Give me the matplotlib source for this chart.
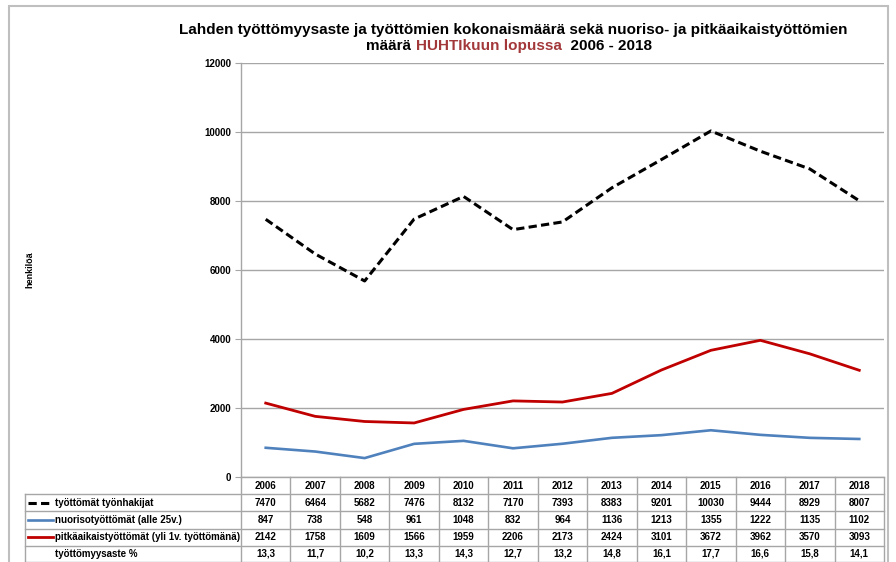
import matplotlib
matplotlib.use("Agg")
import matplotlib.pyplot as plt
from matplotlib.lines import Line2D
from matplotlib.patches import Rectangle

years = ["2006", "2007", "2008", "2009", "2010", "2011", "2012", "2013",
         "2014", "2015", "2016", "2017", "2018"]
tyonhakijat = [7470, 6464, 5682, 7476, 8132, 7170, 7393, 8383, 9201, 10030, 9444, 8929, 8007]
nuoriso = [847, 738, 548, 961, 1048, 832, 964, 1136, 1213, 1355, 1222, 1135, 1102]
pitka = [2142, 1758, 1609, 1566, 1959, 2206, 2173, 2424, 3101, 3672, 3962, 3570, 3093]
aste = ["13,3", "11,7", "10,2", "13,3", "14,3", "12,7", "13,2", "14,8", "16,1", "17,7", "16,6", "15,8", "14,1"]

row_labels = ["työttömät työnhakijat", "nuorisotyöttömät (alle 25v.)",
              "pitkäaikaistyöttömät (yli 1v. työttömänä)", "työttömyysaste %"]
yticks = [0, 2000, 4000, 6000, 8000, 10000, 12000]

C_BLACK = "#000000"
C_BLUE = "#4F81BD"
C_RED = "#C00000"
C_GRID = "#A6A6A6"
TFONT = ["Liberation Sans Narrow", "Liberation Sans", "DejaVu Sans"]
DASH = (0, (2.7, 1.4))

W, H = 896, 562
fig = plt.figure(figsize=(W / 100, H / 100), dpi=100)

def fx(px):
    return px / W

def fy(py):
    return 1 - py / H

# outer frame
fig.patches.append(Rectangle((fx(9), fy(575)), fx(888) - fx(9), fy(6) - fy(575),
                             transform=fig.transFigure, fill=False,
                             edgecolor="#BFBFBF", linewidth=1.5))

L, R, T, B = 241, 884, 63, 477
ax = fig.add_axes([fx(L), fy(B), fx(R) - fx(L), fy(T) - fy(B)])
n = len(years)
xs = list(range(n))
ax.set_xlim(-0.5, n - 0.5)
ax.set_ylim(0, 12000)
ax.set_yticks(yticks)
ax.set_yticklabels([str(v) for v in yticks], fontsize=7, fontweight="bold", family=TFONT)
ax.tick_params(axis="y", length=4, width=0.8, color=C_GRID, pad=3)
ax.set_xticks([])
ax.grid(axis="y", color=C_GRID, linewidth=1)
ax.set_axisbelow(True)
for s in ["top", "right", "bottom"]:
    ax.spines[s].set_visible(False)
ax.spines["left"].set_color(C_GRID)
ax.spines["left"].set_linewidth(1)

ax.plot(xs, tyonhakijat, color=C_BLACK, linewidth=2.2, linestyle=DASH)
ax.plot(xs, nuoriso, color=C_BLUE, linewidth=1.9)
ax.plot(xs, pitka, color=C_RED, linewidth=2)

fig.text(fx(30), fy(270), "henkilöä", rotation=90, fontsize=6.5, fontweight="bold",
         family=TFONT, ha="center", va="center")

# title
fig.text(fx(513), fy(30), "Lahden työttömyysaste ja työttömien kokonaismäärä sekä nuoriso- ja pitkäaikaistyöttömien",
         fontsize=11, fontweight="bold", family=TFONT, ha="center", va="center")
parts = [("määrä ", "black"), ("HUHTIkuun lopussa", "#A3383A"), ("  2006 - 2018", "black")]
renderer = fig.canvas.get_renderer()
objs = []
for txt, col in parts:
    t = fig.text(0, fy(46), txt, fontsize=11, fontweight="bold", family=TFONT,
                 color=col, ha="left", va="center")
    objs.append(t)
widths = [o.get_window_extent(renderer).width for o in objs]
start = 509 - sum(widths) / 2
for o, w in zip(objs, widths):
    o.set_x(fx(start))
    start += w

# table
colw = (R - L) / n
row_lines = [494, 511, 528.5, 545.5, 562]
TL = 25
line_kw = dict(color=C_GRID, linewidth=1, transform=fig.transFigure)
for k in range(n + 1):
    x = L + colw * k
    fig.add_artist(Line2D([fx(x), fx(x)], [fy(B), fy(562)], **line_kw))
fig.add_artist(Line2D([fx(TL), fx(TL)], [fy(494), fy(562)], **line_kw))
fig.add_artist(Line2D([fx(L), fx(R)], [fy(B), fy(B)], **line_kw))
for yl in row_lines:
    fig.add_artist(Line2D([fx(TL), fx(R)], [fy(yl), fy(yl)], **line_kw))

tkw = dict(fontsize=7, fontweight="bold", family=TFONT, ha="center", va="center")
for k, yr in enumerate(years):
    fig.text(fx(L + colw * (k + 0.5)), fy(486), yr, **tkw)

rows = [[str(v) for v in tyonhakijat], [str(v) for v in nuoriso], [str(v) for v in pitka], aste]
for r, vals in enumerate(rows):
    yc = (row_lines[r] + row_lines[r + 1]) / 2
    for k, v in enumerate(vals):
        fig.text(fx(L + colw * (k + 0.5)), fy(yc), v, **tkw)
    fig.text(fx(55), fy(yc), row_labels[r], fontsize=7, fontweight="bold", family=TFONT,
             ha="left", va="center")

legend_styles = [(C_BLACK, DASH, 2.2), (C_BLUE, "-", 1.9), (C_RED, "-", 2)]
for r, (col, ls, lw) in enumerate(legend_styles):
    yc = (row_lines[r] + row_lines[r + 1]) / 2
    fig.add_artist(Line2D([fx(28), fx(53)], [fy(yc), fy(yc)], color=col, linestyle=ls,
                          linewidth=lw, transform=fig.transFigure))

fig.savefig("out.png", dpi=100)
